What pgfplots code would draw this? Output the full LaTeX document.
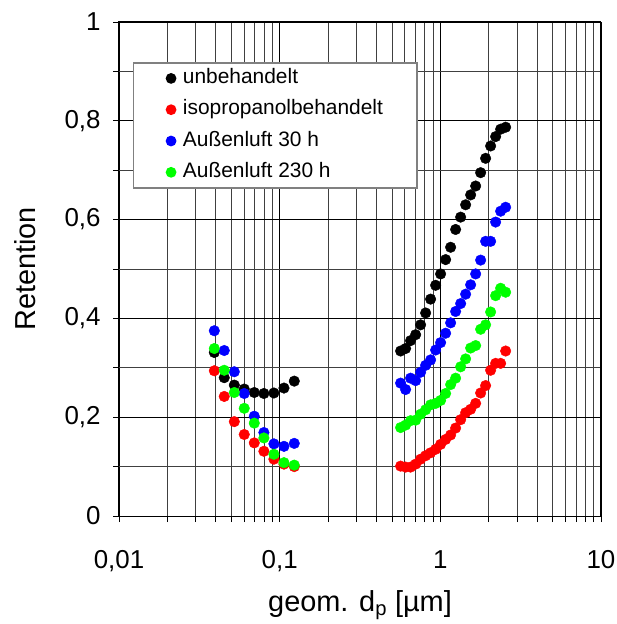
\documentclass[border=0pt]{standalone}
\usepackage{fontspec}
\setmainfont{Liberation Sans}
\usepackage{pgfplots}
\pgfplotsset{compat=1.18}
\usetikzlibrary{calc}

\pgfplotstableread{
x y
0.0392 0.331
0.0452 0.280
0.0522 0.265
0.0602 0.257
0.0695 0.250
0.0798 0.248
0.0921 0.249
0.1064 0.259
0.1233 0.273
0.566 0.334
0.608 0.339
0.653 0.355
0.702 0.367
0.754 0.387
0.810 0.411
0.870 0.439
0.935 0.467
1.004 0.490
1.079 0.519
1.159 0.544
1.245 0.580
1.338 0.605
1.437 0.630
1.544 0.650
1.659 0.668
1.782 0.695
1.914 0.724
2.056 0.749
2.209 0.768
2.373 0.783
2.550 0.787
}\unbeh

\pgfplotstableread{
x y
0.0392 0.294
0.0452 0.242
0.0522 0.191
0.0602 0.165
0.0695 0.148
0.0798 0.131
0.0921 0.115
0.1064 0.105
0.1233 0.100
0.566 0.101
0.608 0.099
0.653 0.099
0.702 0.105
0.754 0.115
0.810 0.122
0.870 0.128
0.935 0.135
1.004 0.145
1.079 0.155
1.159 0.164
1.245 0.178
1.338 0.195
1.437 0.209
1.544 0.216
1.659 0.228
1.782 0.249
1.914 0.264
2.056 0.295
2.209 0.309
2.373 0.309
2.550 0.334
}\isop

\pgfplotstableread{
x y
0.0392 0.375
0.0452 0.335
0.0522 0.292
0.0602 0.248
0.0695 0.202
0.0798 0.169
0.0921 0.146
0.1064 0.141
0.1233 0.147
0.566 0.269
0.608 0.256
0.653 0.279
0.702 0.274
0.754 0.291
0.810 0.305
0.870 0.316
0.935 0.336
1.004 0.351
1.079 0.370
1.159 0.391
1.245 0.414
1.338 0.430
1.437 0.449
1.544 0.468
1.659 0.490
1.782 0.518
1.914 0.556
2.056 0.556
2.209 0.595
2.373 0.617
2.550 0.625
}\aussen

\pgfplotstableread{
x y
0.0392 0.339
0.0452 0.295
0.0522 0.250
0.0602 0.218
0.0695 0.188
0.0798 0.158
0.0921 0.125
0.1064 0.108
0.1233 0.103
0.566 0.179
0.608 0.184
0.653 0.193
0.702 0.194
0.754 0.206
0.810 0.215
0.870 0.225
0.935 0.228
1.004 0.234
1.079 0.248
1.159 0.266
1.245 0.279
1.338 0.302
1.437 0.318
1.544 0.340
1.659 0.345
1.782 0.378
1.914 0.387
2.056 0.413
2.209 0.446
2.373 0.461
2.550 0.453
}\aussenb

\definecolor{cblack}{RGB}{0,0,0}
\definecolor{cred}{RGB}{255,0,0}
\definecolor{cblue}{RGB}{0,0,255}
\definecolor{cgreen}{RGB}{0,255,0}

\pgfplotsset{
  dot/.style={only marks, mark=*, mark size=5.3bp, color=#1,
    mark options={draw=none, fill=#1},
    legend image code/.code={\fill[#1] (0,0) circle (4.6bp);}},
}

\begin{document}
\begin{tikzpicture}
\begin{axis}[
  name=ax,
  scale only axis,
  width=482bp, height=494bp,
  xmode=log, xmin=0.01, xmax=10,
  ymin=0, ymax=1,
  xtick={0.01,0.1,1,10},
  xticklabels={{0,01},{0,1},1,10},
  minor xtick={0.02,0.03,0.04,0.05,0.06,0.07,0.08,0.09,0.2,0.3,0.4,0.5,0.6,0.7,0.8,0.9,2,3,4,5,6,7,8,9},
  ytick={0,0.2,0.4,0.6,0.8,1},
  yticklabels={0,{0,2},{0,4},{0,6},{0,8},1},
  minor ytick={0.1,0.3,0.5,0.7,0.9},
  grid=both,
  major grid style={black, line width=0.8bp},
  minor grid style={black!75, line width=0.8bp},
  axis line style={black, line width=1bp},
  tick align=outside, tick pos=left,
  major tick length=6bp, minor tick length=6bp,
  tick style={black, line width=0.8bp},
  ticklabel style={font=\fontsize{26}{30}\selectfont},
  xticklabel style={yshift=-25bp},
  yticklabel style={xshift=-9bp},
  label style={font=\fontsize{29}{33}\selectfont},
  xlabel={geom. d\textsubscript{p} [µm]},
  ylabel={Retention},
  xlabel style={at={(axis description cs:0.5,-0.18)}, anchor=center},
  ylabel style={at={(axis description cs:-0.195,0.5)}, anchor=center, rotate=0},
  /pgf/number format/assume math mode=true,
  legend cell align=left,
  legend style={at={(0.029,0.919)}, anchor=north west, draw=black!50, line width=1.5bp,
    fill=white, font=\fontsize{21}{24}\selectfont,
    inner xsep=32bp, inner ysep=0bp, row sep=0bp, column sep=4.5bp,
    nodes={inner xsep=2bp, inner ysep=5.9bp, text height=15bp, text depth=4.5bp}},
]
\addplot[dot=cblack] table[x=x,y=y] {\unbeh};
\addlegendentry{unbehandelt}
\addplot[dot=cred] table[x=x,y=y] {\isop};
\addlegendentry{isopropanolbehandelt}
\addplot[dot=cblue] table[x=x,y=y] {\aussen};
\addlegendentry{Außenluft 30 h}
\addplot[dot=cgreen] table[x=x,y=y] {\aussenb};
\addlegendentry{Außenluft 230 h}
\end{axis}
\pgfresetboundingbox
\path[use as bounding box] ($(ax.south west)+(-119bp,-108bp)$) rectangle ($(ax.north east)+(16bp,22bp)$);
\end{tikzpicture}
\end{document}
